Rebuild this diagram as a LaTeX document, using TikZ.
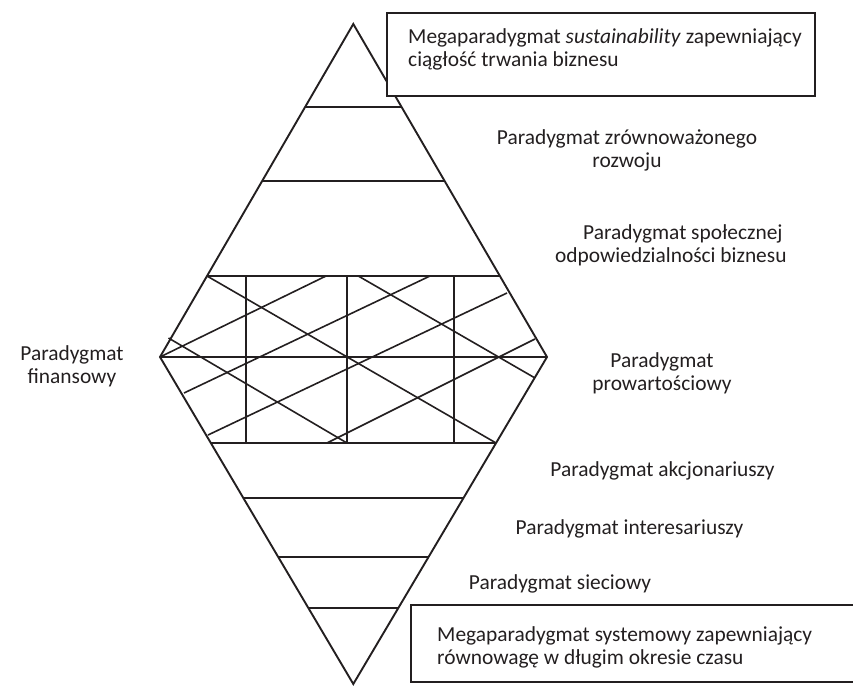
\documentclass[tikz,border=0pt]{standalone}
\usepackage{fontspec}
\setmainfont{Carlito}
\usetikzlibrary{calc}
\definecolor{ink}{HTML}{231F20}
\begin{document}
\begin{tikzpicture}[x=1pt,y=-1pt,
  edge/.style={line width=1.9pt, draw=ink, line join=miter},
  band/.style={line width=1.6pt, draw=ink},
  mesh/.style={line width=1.6pt, draw=ink},
  label/.style={font=\fontsize{21.4}{23}\selectfont, text=ink, inner sep=0pt, align=center},
  frame/.style={draw=ink, line width=1.2pt, fill=white, inner sep=0pt}]
\useasboundingbox (0,0) rectangle (853,685);

% diamond corners
\coordinate (T) at (353.3,24);
\coordinate (L) at (160,357);
\coordinate (R) at (547,357);
\coordinate (B) at (353.3,684);

% horizontal band boundaries (upper half)
\coordinate (h1l) at ($(T)!0.2492!(L)$);  \coordinate (h1r) at ($(T)!0.2492!(R)$);
\coordinate (h2l) at ($(T)!0.4715!(L)$);  \coordinate (h2r) at ($(T)!0.4715!(R)$);
\coordinate (h3l) at ($(T)!0.7568!(L)$);  \coordinate (h3r) at ($(T)!0.7568!(R)$);
% lower half
\coordinate (h4l) at ($(L)!0.263!(B)$);   \coordinate (h4r) at ($(R)!0.263!(B)$);
\coordinate (h5l) at ($(L)!0.4312!(B)$);  \coordinate (h5r) at ($(R)!0.4312!(B)$);
\coordinate (h6l) at ($(L)!0.6116!(B)$);  \coordinate (h6r) at ($(R)!0.6116!(B)$);
\coordinate (h7l) at ($(L)!0.7676!(B)$);  \coordinate (h7r) at ($(R)!0.7676!(B)$);

% grid verticals
\coordinate (v1t) at (246,276); \coordinate (v1b) at (246,443);
\coordinate (v2t) at (347,276); \coordinate (v2b) at (347,443);
\coordinate (v3t) at (454,276); \coordinate (v3b) at (454,443);

% diagonal end points
\coordinate (d2a) at (168.5,338); \coordinate (d2b) at (347,443);
\coordinate (d3a) at (358.3,276); \coordinate (d3b) at (535,378);
\coordinate (a1b) at (326,276);
\coordinate (a2a) at (184,393);   \coordinate (a2b) at (430,276);
\coordinate (a3a) at (208,435);   \coordinate (a3b) at (507,293);
\coordinate (a4a) at (327,443);   \coordinate (a4b) at (535,339);

% crossed mesh in the middle band
\draw[mesh] (v1t) -- (v1b) (v2t) -- (v2b) (v3t) -- (v3b);
\draw[mesh] (L) -- (R);
\draw[mesh] (h3l) -- (h4r) (d2a) -- (d2b) (d3a) -- (d3b);
\draw[mesh] (L) -- (a1b) (a2a) -- (a2b) (a3a) -- (a3b) (a4a) -- (a4b);

% bands
\draw[band] (h1l) -- (h1r) (h2l) -- (h2r) (h3l) -- (h3r) (h4l) -- (h4r)
            (h5l) -- (h5r) (h6l) -- (h6r) (h7l) -- (h7r);

% outline
\draw[edge] (T) -- (R) -- (B) -- (L) -- cycle;

% framed captions
\node[frame, minimum width=428pt, minimum height=83pt] (topbox) at (601,54.5) {};
\node[label, align=left, anchor=west] (toptext) at (408,49)
  {Megaparadygmat \emph{sustainability} zapewniający\\ciągłość trwania biznesu};
\node[frame, minimum width=449pt, minimum height=77pt] (botbox) at (635.5,643.5) {};
\node[label, align=left, anchor=west] (bottext) at (437,647)
  {Megaparadygmat systemowy zapewniający\\równowagę w długim okresie czasu};

% captions
\node[label] (p1) at (627,150) {Paradygmat zrównoważonego\\rozwoju};
\node[label, align=left, anchor=west] (p2) at (555,245)
  {\hspace*{28pt}Paradygmat społecznej\\odpowiedzialności biznesu};
\node[label] (p3) at (662,373) {Paradygmat\\prowartościowy};
\node[label] (p4) at (72,366.5) {Paradygmat\\finansowy};
\node[label] (p5) at (662.5,471) {Paradygmat akcjonariuszy};
\node[label] (p6) at (629.5,529) {Paradygmat interesariuszy};
\node[label] (p7) at (560,584) {Paradygmat sieciowy};
\end{tikzpicture}
\end{document}
